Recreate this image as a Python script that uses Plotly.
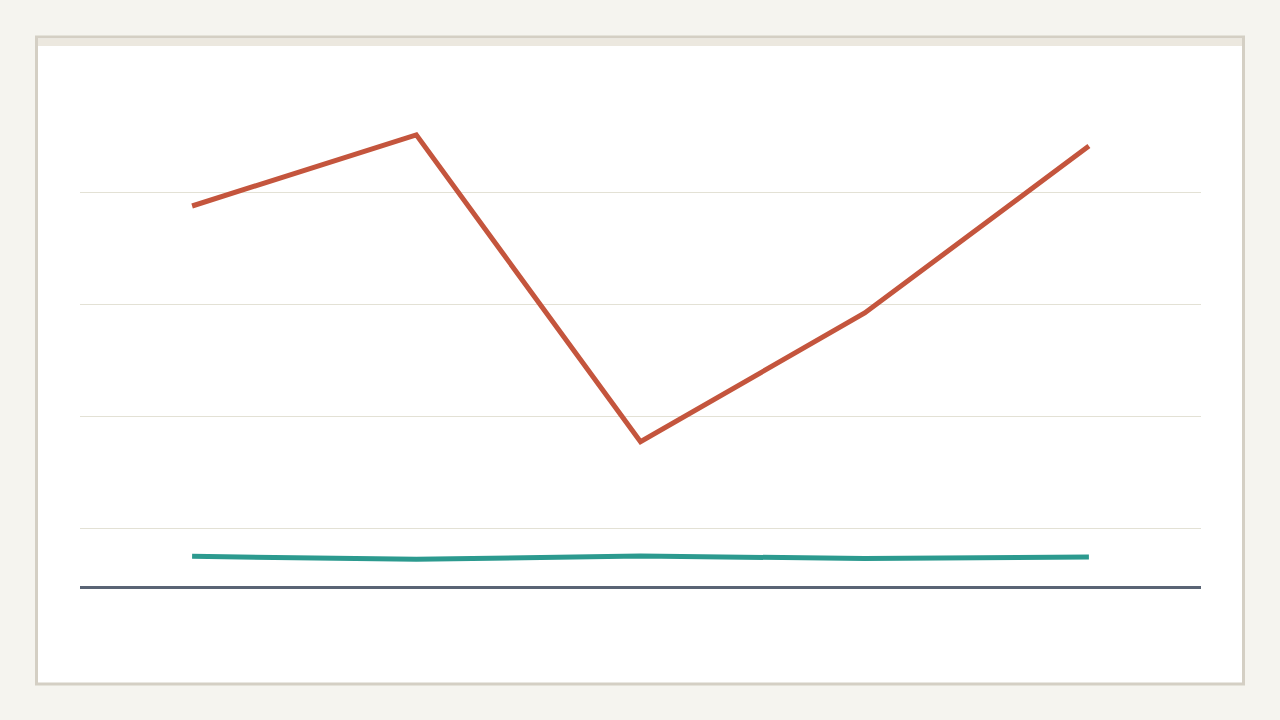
import plotly.graph_objects as go

# data
quarters = ["Q1", "Q2", "Q3", "Q4", "Q5"]
series_a = [77.5, 90.2, 35.4, 58.4, 88.2]
series_b = [14.95, 14.4, 15.0, 14.55, 14.8]
grid_vals = [20, 40, 60, 80]

PAGE_BG = "#f5f4ef"
CARD_BORDER = "#d4cfc4"
CARD_STRIP = "#ece8df"
GRID = "#e3e1d5"
AXIS = "#5a6475"

# plot area is 80..1201 px wide, 80..586 px tall
L, R, T, B = 80, 79, 80, 134
PW, PH = 1280 - L - R, 720 - T - B


def px(x):
    return (x - L) / PW


def py(y):
    return (720 - B - y) / PH


fig = go.Figure()

fig.add_trace(go.Scatter(
    x=quarters, y=series_a, mode="lines", name="A",
    line=dict(color="#c4553d", width=5),
    hoverinfo="skip",
))
fig.add_trace(go.Scatter(
    x=quarters, y=series_b, mode="lines", name="B",
    line=dict(color="#2c9a8f", width=5),
    hoverinfo="skip",
))

# card behind the chart
fig.add_shape(type="rect", xref="paper", yref="paper", layer="below",
              x0=px(36.5), x1=px(1243.5), y0=py(684), y1=py(37),
              fillcolor="white", line=dict(color=CARD_BORDER, width=3))
fig.add_shape(type="rect", xref="paper", yref="paper", layer="below",
              x0=px(38), x1=px(1242), y0=py(46), y1=py(38.5),
              fillcolor=CARD_STRIP, line=dict(width=0))

fig.update_layout(
    width=1280, height=720,
    paper_bgcolor=PAGE_BG,
    plot_bgcolor="rgba(0,0,0,0)",
    margin=dict(l=L, r=R, t=T, b=B),
    showlegend=False,
    xaxis=dict(
        type="category", range=[-0.5, 4.5],
        showticklabels=False, showgrid=False, zeroline=False,
        showline=True, linecolor=AXIS, linewidth=3, ticks="",
        fixedrange=True,
    ),
    yaxis=dict(
        range=[20 - 58 / 5.6, 100],
        tickvals=grid_vals, showticklabels=False,
        showgrid=True, gridcolor=GRID, gridwidth=1,
        zeroline=False, showline=False, ticks="",
        fixedrange=True,
    ),
)

# drop the page's default body margin so the figure fills the window
fig.write_html(
    "out.html",
    config={"displayModeBar": False},
    post_script="document.body.style.margin='0';document.body.style.overflow='hidden';",
)
